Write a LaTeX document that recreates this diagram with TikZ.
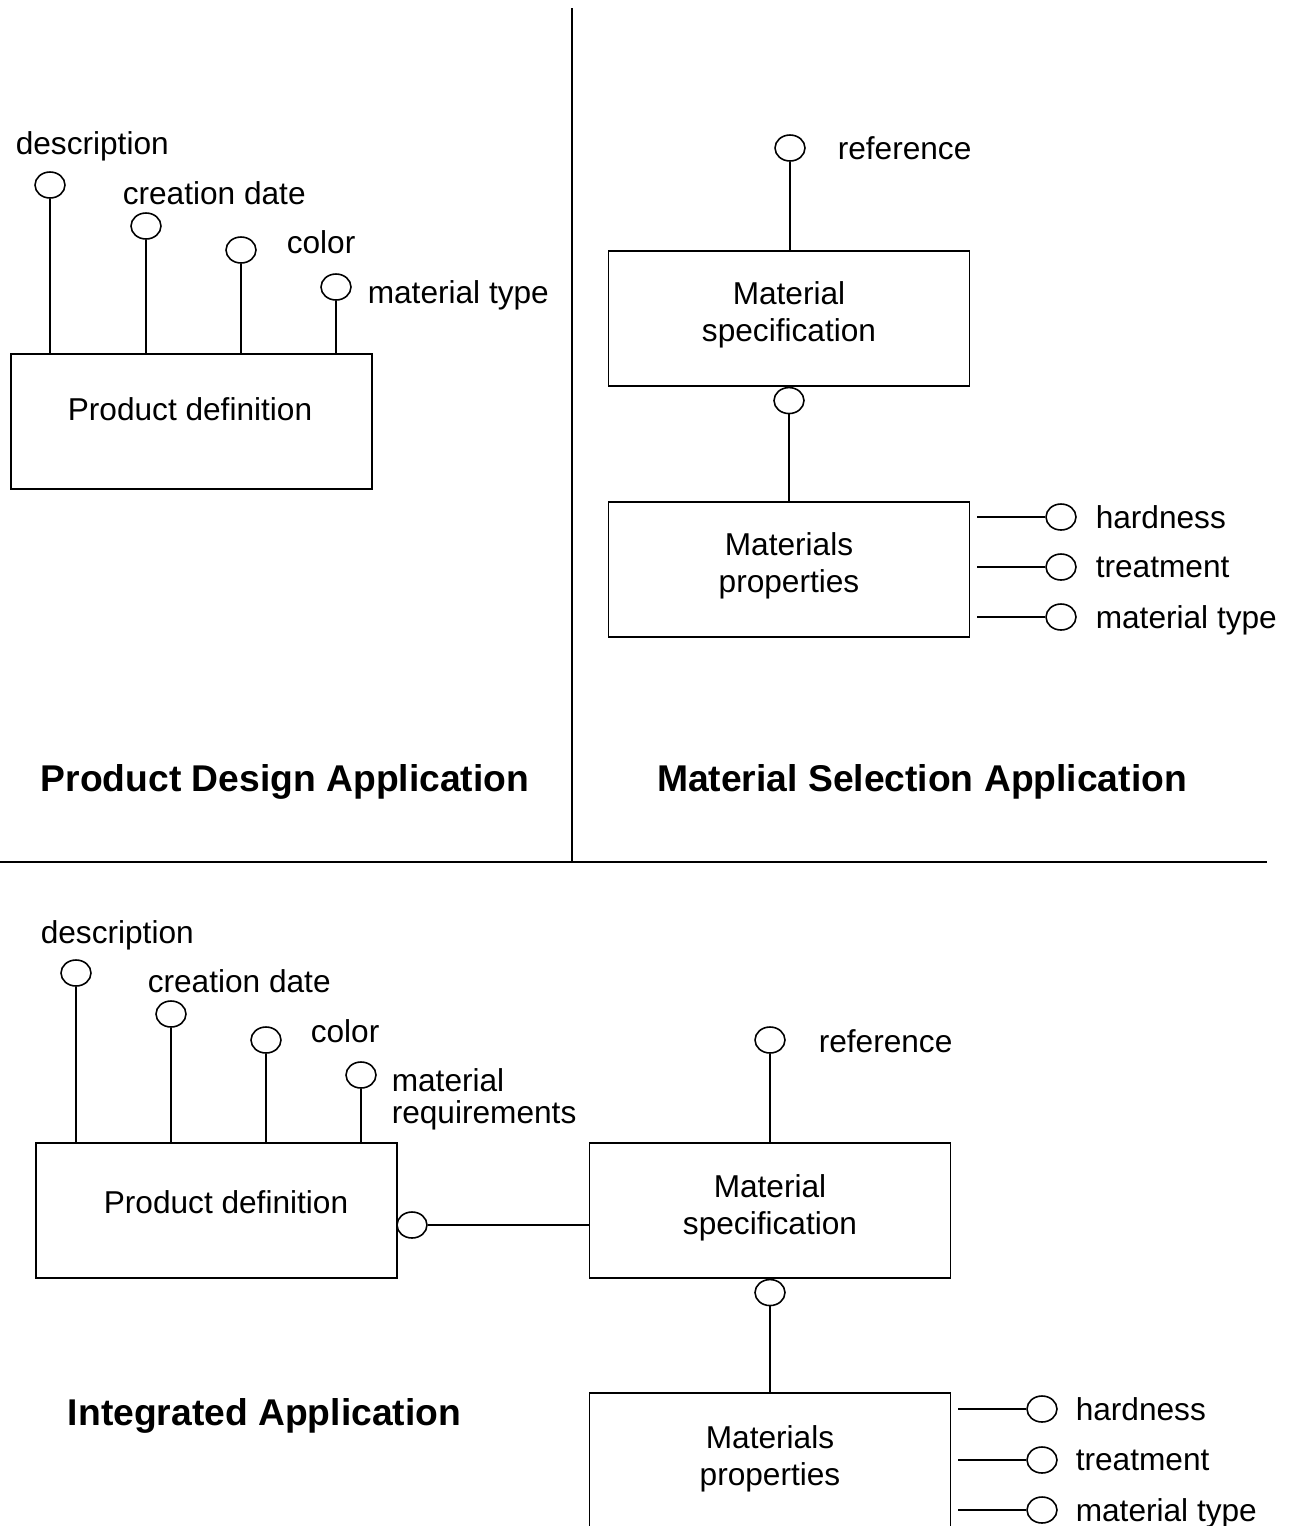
\documentclass[tikz,border=0pt]{standalone}
\usepackage{fontspec}
\setmainfont{Liberation Sans}
\usetikzlibrary{shapes.geometric}

\begin{document}
\begin{tikzpicture}[x=0.02cm,y=-0.02cm,line width=0.9pt,
        entity/.style={draw,rectangle,minimum width=7.22cm,minimum height=2.7cm,inner sep=0pt},
        attrib/.style={draw,ellipse,minimum width=0.6cm,minimum height=0.52cm,inner sep=0pt},
        lbl/.style={font=\fontsize{18}{18.4}\selectfont,inner sep=0pt},
        boxtext/.style={font=\fontsize{18}{21}\selectfont,align=center,inner sep=0pt},
        apptitle/.style={font=\fontsize{21.2}{25}\selectfont\bfseries,inner sep=0pt}]
        \clip (0,0) rectangle (1291,1526);
        %% dividers
        \draw (572,8) -- (572,862);
        \draw (0,862) -- (1267,862);

        %% product design application
        \node[entity] (PD) at (191.5,421.5) {};
        \node[lbl,anchor=base] (PDt) at (190,420) {Product definition};
        \node[attrib] (PDa) at (50,185) {};
        \node[attrib] (PDb) at (146,226) {};
        \node[attrib] (PDc) at (241,250) {};
        \node[attrib] (PDd) at (336,287) {};
        \draw (PDa.south) -- (PDa.south |- PD.north);
        \draw (PDb.south) -- (PDb.south |- PD.north);
        \draw (PDc.south) -- (PDc.south |- PD.north);
        \draw (PDd.south) -- (PDd.south |- PD.north);
        \node[lbl,anchor=west] (PDal) at (15,146) {description};
        \node[lbl,anchor=west] (PDbl) at (122,193) {creation date};
        \node[lbl,anchor=west] (PDcl) at (286,242) {color};
        \node[lbl,anchor=west] (PDdl) at (367,295) {material type};
        \node[apptitle] (PDtitle) at (285,782) {Product Design Application};

        %% material selection application
        \node[entity] (MS) at (789,318.5) {};
        \node[boxtext] (MSt) at (789,315) {Material\\specification};
        \node[attrib] (MSr) at (790,148) {};
        \draw (MSr.south) -- (MSr.south |- MS.north);
        \node[lbl,anchor=west] (MSrl) at (837,148) {reference};
        \node[entity] (MP) at (789,569.5) {};
        \node[boxtext] (MPt) at (789,566) {Materials\\properties};
        \node[attrib,anchor=north] (MSo) at (MS.south) {};
        \draw (MSo.south) -- (MSo.south |- MP.north);
        \node[attrib] (MPh) at (1061,517) {};
        \node[attrib] (MPt2) at (1061,567) {};
        \node[attrib] (MPm) at (1061,617) {};
        \draw[shorten >=0.14cm] (MPh.west) -- (MPh.west -| MP.east);
        \draw[shorten >=0.14cm] (MPt2.west) -- (MPt2.west -| MP.east);
        \draw[shorten >=0.14cm] (MPm.west) -- (MPm.west -| MP.east);
        \node[lbl,anchor=west] (MPhl) at (1095,517) {hardness};
        \node[lbl,anchor=west] (MPtl) at (1095,567) {treatment};
        \node[lbl,anchor=west] (MPml) at (1095,620) {material type};
        \node[apptitle] (MStitle) at (922,782) {Material Selection Application};

        %% integrated application
        \node[entity] (PD2) at (216.5,1210.5) {};
        \node[lbl,anchor=base] (PD2t) at (226,1213) {Product definition};
        \node[attrib] (PD2a) at (76,973) {};
        \node[attrib] (PD2b) at (171,1014) {};
        \node[attrib] (PD2c) at (266,1040) {};
        \node[attrib] (PD2d) at (361,1075) {};
        \draw (PD2a.south) -- (PD2a.south |- PD2.north);
        \draw (PD2b.south) -- (PD2b.south |- PD2.north);
        \draw (PD2c.south) -- (PD2c.south |- PD2.north);
        \draw (PD2d.south) -- (PD2d.south |- PD2.north);
        \node[lbl,anchor=west] (PD2al) at (40,935) {description};
        \node[lbl,anchor=west] (PD2bl) at (147,981) {creation date};
        \node[lbl,anchor=west] (PD2cl) at (310,1031) {color};
        \node[lbl,anchor=west,align=left] (PD2dl) at (391,1099) {material\\requirements};
        \node[entity] (MS2) at (770,1210.5) {};
        \node[boxtext] (MS2t) at (770,1208) {Material\\specification};
        \node[attrib] (PD2o) at (412,1225) {};
        \draw (PD2o.east) -- (PD2o.east -| MS2.west);
        \node[attrib] (MS2r) at (770,1040) {};
        \draw (MS2r.south) -- (MS2r.south |- MS2.north);
        \node[lbl,anchor=west] (MS2rl) at (818,1041) {reference};
        \node[entity] (MP2) at (770,1460.5) {};
        \node[boxtext] (MP2t) at (770,1458.5) {Materials\\properties};
        \node[attrib,anchor=north] (MS2o) at (MS2.south) {};
        \draw (MS2o.south) -- (MS2o.south |- MP2.north);
        \node[attrib] (MP2h) at (1042,1409) {};
        \node[attrib] (MP2t2) at (1042,1460) {};
        \node[attrib] (MP2m) at (1042,1510) {};
        \draw[shorten >=0.14cm] (MP2h.west) -- (MP2h.west -| MP2.east);
        \draw[shorten >=0.14cm] (MP2t2.west) -- (MP2t2.west -| MP2.east);
        \draw[shorten >=0.14cm] (MP2m.west) -- (MP2m.west -| MP2.east);
        \node[lbl,anchor=west] (MP2hl) at (1075,1409) {hardness};
        \node[lbl,anchor=west] (MP2tl) at (1075,1460) {treatment};
        \node[lbl,anchor=west] (MP2ml) at (1075,1513) {material type};
        \node[apptitle] (IAtitle) at (264.5,1416) {Integrated Application};
    \end{tikzpicture}
\end{document}
